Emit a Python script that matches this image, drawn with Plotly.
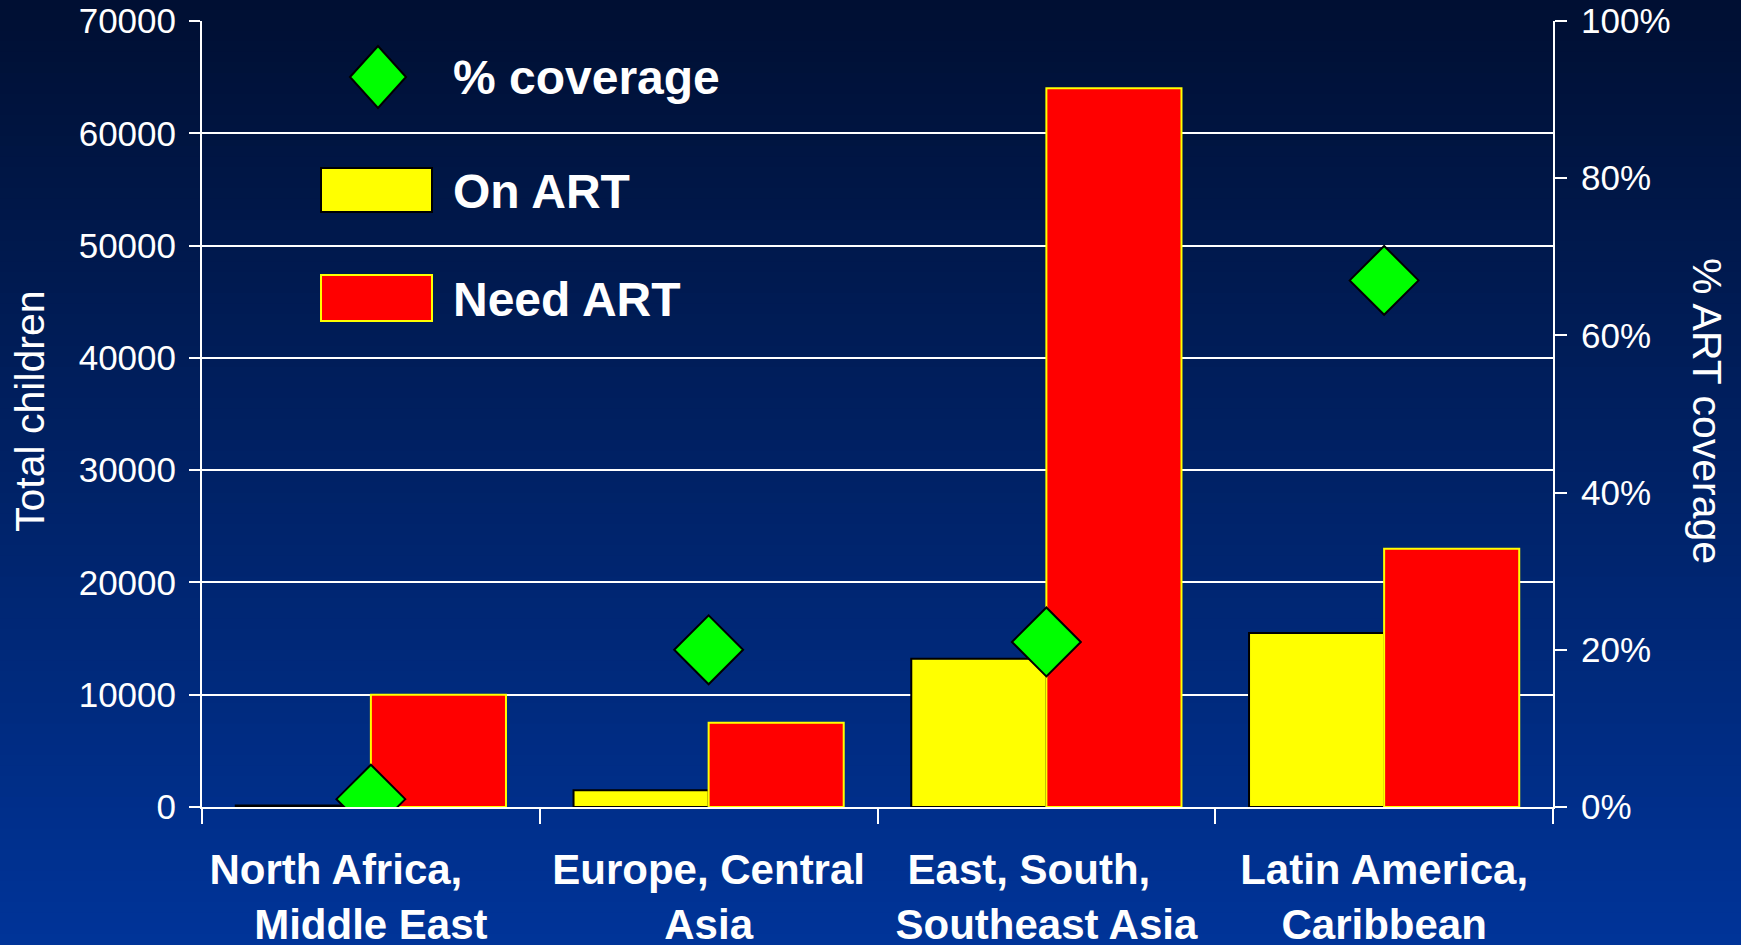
import plotly.graph_objects as go

NB = "\u00a0"
categories = ["North Africa," + NB * 6 + "<br>Middle East", "Europe, Central<br>Asia",
              "East, South," + NB * 3 + "<br>Southeast Asia", "Latin America,<br>Caribbean"]
on_art = [130, 1500, 13200, 15500]
need_art = [10000, 7500, 64000, 23000]
coverage_pct = [1.0, 20, 21, 67]

W, H = 1741, 945
L, R, T, B = 202, 1553, 21, 807  # plot area pixel box


def px(x):
    return (x - L) / (R - L)


def py(y):
    return (B - y) / (B - T)


FONT = "Liberation Sans, Arial, Helvetica, sans-serif"

fig = go.Figure()
fig.add_bar(x=categories, y=on_art, name="On ART",
            marker=dict(color="#FFFF00", line=dict(color="black", width=2)))
fig.add_bar(x=categories, y=need_art, name="Need ART",
            marker=dict(color="#FF0000", line=dict(color="#FFFF00", width=2)))
fig.add_scatter(x=categories, y=coverage_pct, yaxis="y2", mode="markers", name="% coverage",
                marker=dict(symbol="diamond", size=53, color="#00FF00",
                            line=dict(color="black", width=2)))

shapes = []
# background gradient
n = 90
top = (0, 15, 50)
bot = (0, 52, 153)
for i in range(n):
    y0 = i * H / n - 1
    y1 = (i + 1) * H / n + 1
    t = (i + 0.5) / n
    c = tuple(round(top[k] + (bot[k] - top[k]) * t) for k in range(3))
    shapes.append(dict(type="rect", xref="paper", yref="paper", layer="below",
                       x0=px(-2), x1=px(W + 2), y0=py(y0), y1=py(y1),
                       fillcolor="rgb(%d,%d,%d)" % c, line=dict(width=0)))

# legend swatches
cx, cy, hw, hh = 378, 77, 28, 31
path = "M {x0},{ym} L {xm},{y0} L {x1},{ym} L {xm},{y1} Z".format(
    x0=px(cx - hw), x1=px(cx + hw), xm=px(cx), ym=py(cy), y0=py(cy - hh), y1=py(cy + hh))
shapes.append(dict(type="path", xref="paper", yref="paper", path=path,
                   fillcolor="#00FF00", line=dict(color="black", width=2)))
shapes.append(dict(type="rect", xref="paper", yref="paper",
                   x0=px(321), x1=px(432), y0=py(168), y1=py(212),
                   fillcolor="#FFFF00", line=dict(color="black", width=2)))
shapes.append(dict(type="rect", xref="paper", yref="paper",
                   x0=px(321), x1=px(432), y0=py(275), y1=py(321),
                   fillcolor="#FF0000", line=dict(color="#FFFF00", width=2)))

annotations = []
for label, yy in [("% coverage", 78), ("On ART", 191), ("Need ART", 299)]:
    annotations.append(dict(text="<b>%s</b>" % label, xref="paper", yref="paper",
                            x=px(451), y=py(yy), xanchor="left", yanchor="middle",
                            showarrow=False, font=dict(size=48, color="white", family=FONT)))
annotations.append(dict(text="Total children", xref="paper", yref="paper",
                        x=px(30), y=py(411), textangle=-90, showarrow=False,
                        xanchor="center", yanchor="middle",
                        font=dict(size=41, color="white", family=FONT)))
annotations.append(dict(text="% ART coverage", xref="paper", yref="paper",
                        x=px(1707), y=py(411), textangle=90, showarrow=False,
                        xanchor="center", yanchor="middle",
                        font=dict(size=41, color="white", family=FONT)))

fig.update_layout(
    template="none",
    width=W, height=H,
    margin=dict(l=L, r=W - R, t=T, b=H - B, pad=0, autoexpand=False),
    paper_bgcolor="#001a5c", plot_bgcolor="rgba(0,0,0,0)",
    barmode="group", bargap=0.2, bargroupgap=0,
    showlegend=False,
    font=dict(family=FONT, color="white"),
    shapes=shapes, annotations=annotations,
    xaxis=dict(type="category", tickson="boundaries", ticks="outside", ticklen=15,
               tickwidth=2, tickcolor="white", showline=True, linecolor="white", linewidth=2,
               showgrid=False, automargin=False,
               tickfont=dict(size=42, color="white", family=FONT),
               tickvals=categories, ticktext=["<b>%s</b>" % c for c in categories],
               ticklabelstandoff=25),
    yaxis=dict(range=[0, 70000], dtick=10000, tickformat="d", showgrid=True,
               gridcolor="white", gridwidth=2, showline=True, linecolor="white", linewidth=2,
               ticks="outside", ticklen=11, tickwidth=2, tickcolor="white", zeroline=False,
               automargin=False, tickfont=dict(size=35, color="white", family=FONT),
               ticklabelstandoff=6),
    yaxis2=dict(overlaying="y", side="right", range=[0, 100], dtick=20, ticksuffix="%",
                showgrid=False, showline=True, linecolor="white", linewidth=2,
                ticks="outside", ticklen=12, tickwidth=2, tickcolor="white", zeroline=False,
                automargin=False, tickfont=dict(size=35, color="white", family=FONT),
                ticklabelstandoff=7),
)

fig.write_html("out.html", config={"displayModeBar": False},
               post_script="document.body.style.margin='0';")
